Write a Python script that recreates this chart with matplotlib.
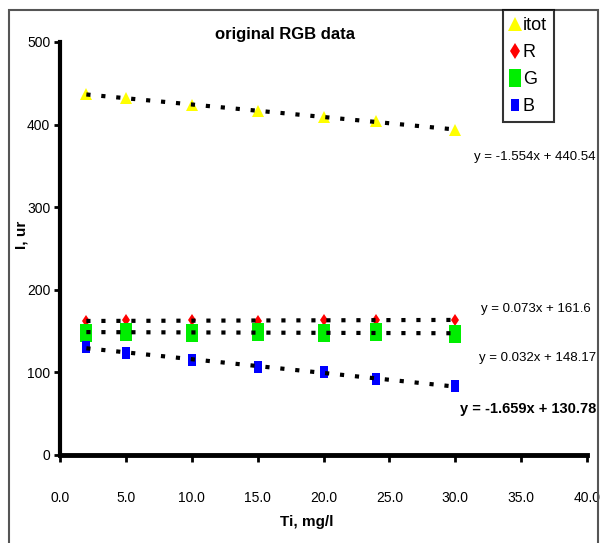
import numpy as np
import matplotlib
matplotlib.use("Agg")
import matplotlib.pyplot as plt
from matplotlib.patches import Rectangle
from matplotlib.lines import Line2D

plt.rcParams['font.family'] = ['Liberation Sans', 'DejaVu Sans']

ti = [2, 5, 10, 15, 20, 24, 30]
itot = [437, 432, 424, 416, 409, 404, 394]
R = [162, 163, 163, 162, 163, 163, 164]
G = [148, 149, 148, 149, 148, 149, 146]
B = [131, 124, 115, 106, 100, 92, 84]

eq_itot = "y = -1.554x + 440.54"
eq_R = "y = 0.073x + 161.6"
eq_G = "y = 0.032x + 148.17"
eq_B = "y = -1.659x + 130.78"

xticks = [0, 5, 10, 15, 20, 25, 30, 35, 40]
yticks = [0, 100, 200, 300, 400, 500]

fig = plt.figure(figsize=(6.0, 5.43), dpi=100)
ax = fig.add_axes([60/600, 1-455/543, 527/600, 413/543])

rect_g = [(-0.31, -0.5), (0.31, -0.5), (0.31, 0.5), (-0.31, 0.5), (-0.31, -0.5)]
rect_b = [(-0.36, -0.5), (0.36, -0.5), (0.36, 0.5), (-0.36, 0.5), (-0.36, -0.5)]

series = [
    (itot, '^', '#ffff00', 9, 'itot'),
    (R, 'd', '#ff0000', 6, 'R'),
    (G, rect_g, '#00ee00', 13, 'G'),
    (B, rect_b, '#0000ff', 8, 'B'),
]

x = np.array(ti, dtype=float)
for vals, mk, col, ms, lab in series:
    p = np.polyfit(x, np.array(vals, dtype=float), 1)
    xx = np.array([x.min(), x.max()])
    ax.plot(xx, np.polyval(p, xx), color='black', lw=3, ls=(0, (1, 2.6)),
            dash_capstyle='butt', zorder=3)
for vals, mk, col, ms, lab in series:
    ax.plot(ti, vals, ls='none', marker=mk, color=col, markersize=ms,
            markeredgewidth=0, zorder=2, label=lab)

ax.set_xlim(0, 40)
ax.set_ylim(0, 500)
ax.set_xticks(xticks)
ax.set_xticklabels([f"{v:.1f}" for v in xticks])
ax.set_yticks(yticks)
ax.spines['top'].set_visible(False)
ax.spines['right'].set_visible(False)
ax.spines['left'].set_linewidth(3)
ax.spines['bottom'].set_linewidth(3.5)
ax.tick_params(axis='x', direction='out', length=5, width=2, pad=21, labelsize=10)
ax.tick_params(axis='y', direction='out', length=4, width=2, pad=3, labelsize=10)

fig.text(22/600, 1-235/543, "I, ur", rotation=90, fontsize=11, fontweight='bold',
         ha='center', va='center')
fig.text(307/600, 1-522/543, "Ti, mg/l", fontsize=11, fontweight='bold',
         ha='center', va='center')
fig.text(285/600, 1-35/543, "original RGB data", fontsize=12, fontweight='bold',
         ha='center', va='center')

fig.text(596/600, 1-157/543, eq_itot, fontsize=9.5, ha='right', va='center')
fig.text(591/600, 1-309/543, eq_R, fontsize=9.5, ha='right', va='center')
fig.text(596/600, 1-358/543, eq_G, fontsize=9.5, ha='right', va='center')
fig.text(596/600, 1-409/543, eq_B, fontsize=10.5, fontweight='bold', ha='right', va='center')

leg_sizes = {'itot': 10, 'R': 8, 'G': 13, 'B': 8}
handles = [Line2D([], [], ls='none', marker=mk, color=col, markersize=leg_sizes[lab],
                  markeredgewidth=0) for vals, mk, col, ms, lab in series]
labels = [s[4] for s in series]
leg = fig.legend(handles, labels, loc='upper left', bbox_to_anchor=(503/600, 1-10/543),
                 frameon=True, fancybox=False, fontsize=13, handlelength=0.5,
                 handletextpad=0.2, borderpad=0.4, labelspacing=0.55,
                 borderaxespad=0)
leg.get_frame().set_edgecolor('black')
leg.get_frame().set_linewidth(1.5)

fig.patches.append(Rectangle((9/600, -0.01), 589/600, 1-10/543 + 0.01,
                             transform=fig.transFigure, fill=False,
                             edgecolor='#555555', lw=1.5, zorder=0))

fig.savefig('out.png', dpi=100)
